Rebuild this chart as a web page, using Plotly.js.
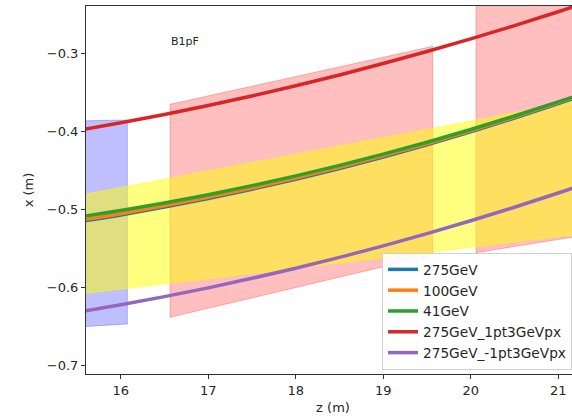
<!DOCTYPE html>
<html>
<head>
<meta charset="utf-8">
<script src="https://cdn.plot.ly/plotly-3.0.1.min.js"></script>
<style>
  html, body { margin: 0; padding: 0; background: #fff; overflow: hidden; }
  #plot { width: 581px; height: 417px; }
</style>
</head>
<body>
<div id="plot"></div>
<script>
// Beam trajectories x(z) in the B1pF region
const z = [15.5, 16, 16.5, 17, 17.5, 18, 18.5, 19, 19.5, 20, 20.5, 21, 21.5];

const x275 = [-0.5160, -0.5069, -0.4969, -0.4859, -0.4740, -0.4612, -0.4475,
              -0.4328, -0.4171, -0.4005, -0.3829, -0.3645, -0.3450];
const x100 = [-0.5143, -0.5053, -0.4953, -0.4844, -0.4725, -0.4597, -0.4460,
              -0.4313, -0.4157, -0.3991, -0.3816, -0.3632, -0.3436];
const x41  = [-0.5100, -0.5013, -0.4916, -0.4810, -0.4694, -0.4569, -0.4435,
              -0.4291, -0.4138, -0.3975, -0.3803, -0.3622, -0.3431];
const x275px = [-0.3989, -0.3890, -0.3784, -0.3669, -0.3546, -0.3416, -0.3278,
                -0.3131, -0.2977, -0.2815, -0.2646, -0.2468, -0.2282];
const x275mpx = [-0.6315, -0.6219, -0.6115, -0.6003, -0.5881, -0.5751, -0.5613,
                 -0.5465, -0.5309, -0.5144, -0.4971, -0.4788, -0.4597];

const seriesNames = ["275GeV", "100GeV", "41GeV", "275GeV_1pt3GeVpx", "275GeV_-1pt3GeVpx"];
const seriesColors = ["#1f77b4", "#ff7f0e", "#2ca02c", "#d62728", "#9467bd"];

// Aperture bands: z extent, upper and lower edge at each end
const blueBandZ = [15.5, 16.075];
const blueBandTop = [-0.3865, -0.3854];
const blueBandBottom = [-0.6505, -0.6466];

const redBand1Z = [16.563, 19.566];
const redBand1Top = [-0.3653, -0.2910];
const redBand1Bottom = [-0.6380, -0.5583];

const redBand2Z = [20.06, 21.5];
const redBand2Top = [-0.2150, -0.1800];
const redBand2Bottom = [-0.5553, -0.5294];

const yellowBandZ = [15.5, 21.5];
const yellowBandTop = [-0.4824, -0.3547];
const yellowBandBottom = [-0.6087, -0.5281];

function band(zs, top, bottom, fillColor, edgeColor) {
  return {
    x: [zs[0], zs[1], zs[1], zs[0], zs[0]],
    y: [top[0], top[1], bottom[1], bottom[0], top[0]],
    type: "scatter",
    mode: "lines",
    fill: "toself",
    fillcolor: fillColor,
    line: { color: edgeColor, width: 1 },
    hoverinfo: "skip",
    showlegend: false
  };
}

const traces = [
  band(blueBandZ, blueBandTop, blueBandBottom, "rgba(0,0,255,0.25)", "rgba(0,0,255,0.25)"),
  band(redBand1Z, redBand1Top, redBand1Bottom, "rgba(255,0,0,0.25)", "rgba(255,0,0,0.25)"),
  band(redBand2Z, redBand2Top, redBand2Bottom, "rgba(255,0,0,0.25)", "rgba(255,0,0,0.25)"),
  band(yellowBandZ, yellowBandTop, yellowBandBottom, "rgba(255,255,0,0.5)", "rgba(255,255,0,0.5)")
];

const seriesValues = [x275, x100, x41, x275px, x275mpx];
seriesValues.forEach((vals, i) => {
  traces.push({
    x: z,
    y: vals,
    type: "scatter",
    mode: "lines",
    name: seriesNames[i],
    line: { color: seriesColors[i], width: 3.5, shape: "spline" }
  });
});

const font = { family: "DejaVu Sans, sans-serif", size: 13, color: "#262626" };

const layout = {
  width: 581,
  height: 417,
  margin: { l: 86, r: 1, t: 6, b: 43 },
  paper_bgcolor: "#fff",
  plot_bgcolor: "#fff",
  font: font,
  showlegend: true,
  xaxis: {
    range: [15.603, 21.249],
    tickvals: [16, 17, 18, 19, 20, 21],
    ticks: "outside",
    ticklen: 4,
    tickwidth: 1,
    tickcolor: "#333",
    showline: true,
    linecolor: "#333",
    linewidth: 1,
    mirror: true,
    showgrid: false,
    zeroline: false,
    tickfont: font,
    title: { text: "z (m)", font: font, standoff: 6 }
  },
  yaxis: {
    range: [-0.7106, -0.2394],
    tickvals: [-0.7, -0.6, -0.5, -0.4, -0.3],
    tickformat: ".1f",
    ticks: "outside",
    ticklen: 4,
    tickwidth: 1,
    tickcolor: "#333",
    showline: true,
    linecolor: "#333",
    linewidth: 1,
    mirror: true,
    showgrid: false,
    zeroline: false,
    tickfont: font,
    title: { text: "x (m)", font: font, standoff: 10 }
  },
  legend: {
    x: 0.9838,
    xanchor: "right",
    y: 0.011,
    yanchor: "bottom",
    bgcolor: "rgba(255,255,255,0.9)",
    bordercolor: "#d0d0d0",
    borderwidth: 1,
    font: { family: "DejaVu Sans, sans-serif", size: 13.7, color: "#262626" },
    tracegroupgap: 0
  },
  annotations: [{
    x: 16.735,
    y: -0.285,
    xref: "x",
    yref: "y",
    text: "B1pF",
    showarrow: false,
    font: { family: "DejaVu Sans, sans-serif", size: 11, color: "#262626" }
  }]
};

Plotly.newPlot("plot", traces, layout, { displayModeBar: false, staticPlot: true });
</script>
</body>
</html>
